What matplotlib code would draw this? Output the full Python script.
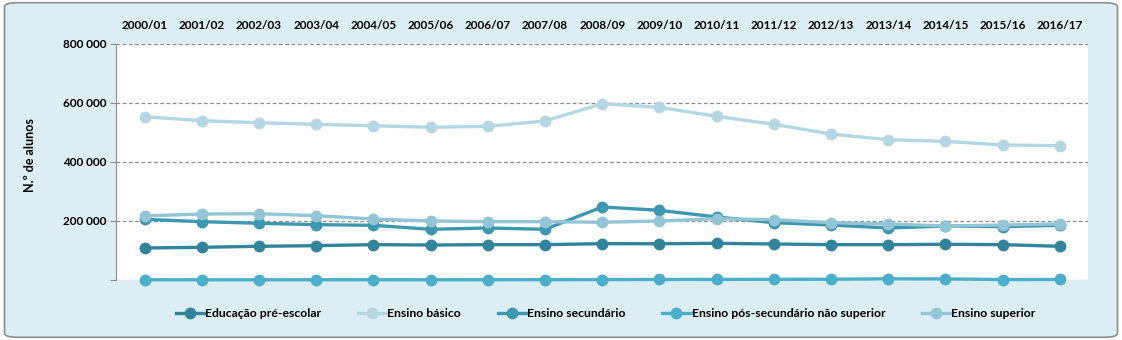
import matplotlib.pyplot as plt
from matplotlib.patches import FancyBboxPatch
from matplotlib.ticker import FuncFormatter

plt.rcParams['font.family'] = ['Lato', 'DejaVu Sans']

anos = ['2000/01', '2001/02', '2002/03', '2003/04', '2004/05', '2005/06',
        '2006/07', '2007/08', '2008/09', '2009/10', '2010/11', '2011/12',
        '2012/13', '2013/14', '2014/15', '2015/16', '2016/17']

pre_escolar = [108500, 110800, 114200, 116400, 119800, 118600, 119800, 119800,
               123200, 122800, 124300, 122000, 119800, 119800, 121000, 119800, 114200]
basico = [553600, 540000, 533000, 527700, 523000, 517600, 521000, 539000,
          597600, 585300, 554900, 527700, 494900, 475600, 470000, 457600, 455300]
secundario = [205700, 197700, 192200, 187600, 185400, 171800, 176300, 171800,
              247500, 236200, 213600, 194300, 186400, 176300, 183000, 180800, 185400]
pos_secundario = [800, 600, 700, 800, 900, 800, 900, 1200,
                  1500, 1800, 2000, 2200, 2600, 4000, 3600, 1500, 1800]
superior = [217000, 223700, 224700, 218000, 206800, 200000, 197700, 197700,
            195600, 200000, 207800, 204500, 194300, 190000, 183000, 186400, 190000]

series = [
    ('Educação pré-escolar', pre_escolar, '#31849b'),
    ('Ensino básico', basico, '#b4d7e3'),
    ('Ensino secundário', secundario, '#3c97b0'),
    ('Ensino pós-secundário não superior', pos_secundario, '#4aafcb'),
    ('Ensino superior', superior, '#92c5d6'),
]

fig = plt.figure(figsize=(11.22, 3.40), dpi=100, facecolor='white')

# rounded light-blue panel behind everything
painel = FancyBboxPatch((0.004, 0.008), 0.992, 0.984,
                        boxstyle='round,pad=0,rounding_size=0.012',
                        transform=fig.transFigure, facecolor='#dcedf3',
                        edgecolor='#8c8c8c', linewidth=1.2, zorder=-10)
fig.patches.append(painel)

ax = fig.add_axes([0.1034, 0.1765, 0.8667, 0.6941])
ax.set_zorder(1)
ax.set_facecolor('white')

x = range(len(anos))
for nome, valores, cor in series:
    ax.plot(x, valores, color=cor, lw=2.4, marker='o', markersize=7.5,
            label=nome, clip_on=False, zorder=3)

ax.set_xlim(-0.5, len(anos) - 0.5)
ax.set_ylim(0, 800000)
ax.set_yticks([0, 200000, 400000, 600000, 800000])
ax.yaxis.set_major_formatter(FuncFormatter(
    lambda v, p: '' if v == 0 else f'{int(v):,}'.replace(',', ' ')))
ax.grid(axis='y', color='#8c8c8c', linestyle=(0, (3, 2)), linewidth=0.9)
ax.set_axisbelow(True)

ax.xaxis.tick_top()
ax.set_xticks(list(x))
ax.set_xticklabels(anos, fontsize=8.5, fontweight='bold')
ax.tick_params(axis='x', length=0, pad=9)
ax.tick_params(axis='y', length=4, color='#8c8c8c', labelsize=8.5, pad=3)
for t in ax.get_yticklabels():
    t.set_fontweight('bold')

for s in ['top', 'right', 'bottom']:
    ax.spines[s].set_visible(False)
ax.spines['left'].set_color('#8c8c8c')

fig.text(0.027, 0.545, 'N.º de alunos', rotation=90, ha='center', va='center',
         fontsize=9, fontweight='bold')

fig.legend(loc='center', bbox_to_anchor=(0.54, 0.077), ncol=5, frameon=False,
           prop={'size': 8.8, 'weight': 'bold'}, handlelength=2.3,
           handletextpad=0.1, columnspacing=3.0)

plt.savefig('out.png', dpi=100, facecolor='white')
